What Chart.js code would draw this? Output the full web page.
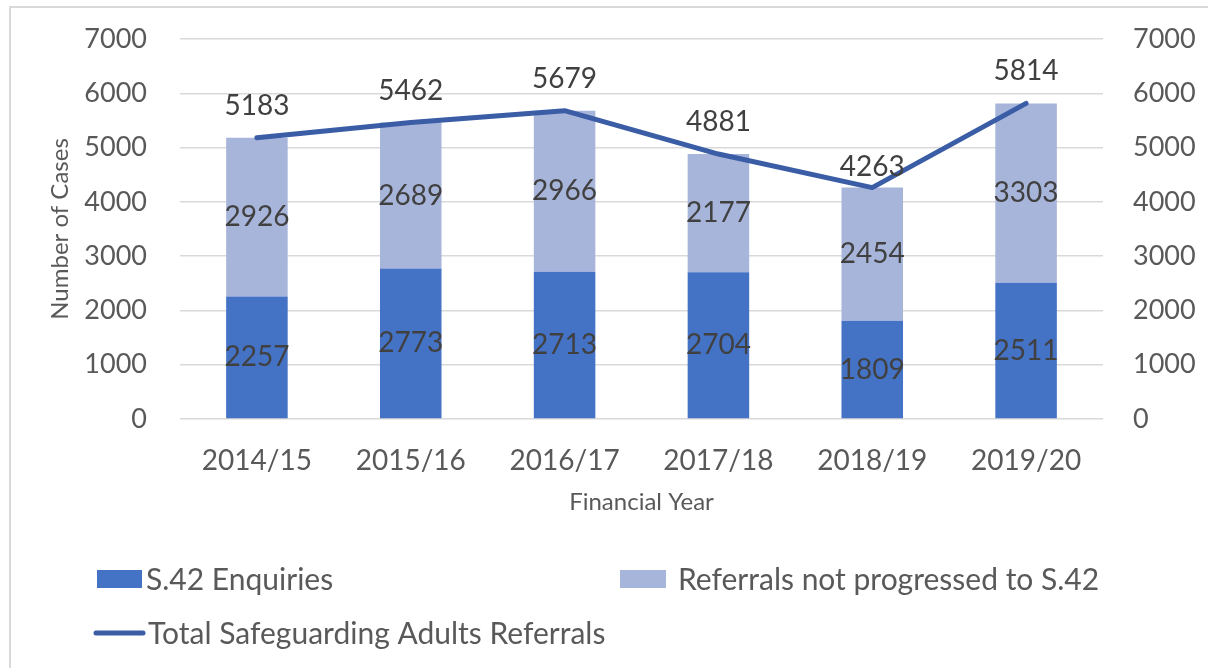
<!DOCTYPE html>
<html><head><meta charset="utf-8">
<script src="https://cdn.jsdelivr.net/npm/chart.js@4/dist/chart.umd.min.js"></script>
<style>
html,body{margin:0;padding:0;background:#fff;overflow:hidden;width:1208px;height:668px}
#frame{position:absolute;left:9px;top:6px;width:1300px;height:800px;border:2px solid #d9d9d9;box-sizing:border-box}
canvas{position:absolute;left:0;top:0}
</style></head><body>
<div id="frame"></div>
<canvas id="c" width="1208" height="668"></canvas>
<script>
const categories = ['2014/15','2015/16','2016/17','2017/18','2018/19','2019/20'];
const s42Enquiries = [2257, 2773, 2713, 2704, 1809, 2511];
const referralsNotProgressed = [2926, 2689, 2966, 2177, 2454, 3303];
const totalReferrals = [5183, 5462, 5679, 4881, 4263, 5814];
const seriesNames = ['S.42 Enquiries', 'Referrals not progressed to S.42', 'Total Safeguarding Adults Referrals'];
const axisMin = 0, axisMax = 7000, axisStep = 1000;

const FONT = 'Lato, "Noto Sans", sans-serif';
const TICK = '#595959';
const LABEL = '#404040';
const C1 = '#4472C4', C2 = '#A8B5DB', CL = '#3A5DA6';

const valueLabels = {
  id: 'valueLabels',
  afterDatasetsDraw(chart, args, opts) {
    const ctx = chart.ctx;
    ctx.save();
    ctx.font = opts.size + 'px ' + FONT;
    ctx.fillStyle = opts.color;
    ctx.textAlign = 'center';
    ctx.textBaseline = 'middle';
    chart.data.datasets.forEach((ds, i) => {
      const meta = chart.getDatasetMeta(i);
      meta.data.forEach((el, j) => {
        const v = ds.data[j];
        if (ds.type === 'line') {
          ctx.fillText(String(v), el.x, el.y - opts.lineOffsets[j]);
        } else {
          const p = el.getProps(['x', 'y', 'base'], true);
          ctx.fillText(String(v), p.x, (p.y + p.base) / 2);
        }
      });
    });
    ctx.restore();
  }
};

const customLegend = {
  id: 'customLegend',
  afterDraw(chart, args, opts) {
    const ctx = chart.ctx;
    ctx.save();
    ctx.font = opts.size + 'px ' + FONT;
    ctx.textBaseline = 'middle';
    ctx.textAlign = 'left';
    opts.items.forEach(it => {
      const ds = chart.data.datasets[it.index];
      if (ds.type === 'line') {
        ctx.strokeStyle = ds.borderColor;
        ctx.lineWidth = ds.borderWidth;
        ctx.lineCap = 'round';
        ctx.beginPath();
        ctx.moveTo(it.x, it.y);
        ctx.lineTo(it.x + it.w, it.y);
        ctx.stroke();
      } else {
        ctx.fillStyle = ds.backgroundColor;
        ctx.fillRect(it.x, it.y - it.h / 2, it.w, it.h);
      }
      ctx.fillStyle = TICK;
      ctx.fillText(ds.label, it.tx, it.y + 1);
    });
    ctx.restore();
  }
};

const plainNumber = v => String(v);

new Chart(document.getElementById('c'), {
  data: {
    labels: categories,
    datasets: [
      { type: 'bar', label: seriesNames[0], data: s42Enquiries, backgroundColor: C1, yAxisID: 'y', order: 2, barPercentage: 1, categoryPercentage: 0.4 },
      { type: 'bar', label: seriesNames[1], data: referralsNotProgressed, backgroundColor: C2, yAxisID: 'y', order: 2, barPercentage: 1, categoryPercentage: 0.4 },
      { type: 'line', label: seriesNames[2], data: totalReferrals, borderColor: CL, borderWidth: 5, pointRadius: 0, tension: 0, borderCapStyle: 'round', borderJoinStyle: 'round', yAxisID: 'y1', order: 1 }
    ]
  },
  options: {
    responsive: false,
    animation: false,
    layout: { padding: { left: 0, right: 0, top: 39, bottom: 149 } },
    plugins: {
      legend: { display: false },
      tooltip: { enabled: false },
      valueLabels: { size: 28, color: LABEL, lineOffsets: [32, 32, 32, 32, 21, 32] },
      customLegend: {
        size: 30,
        items: [
          { index: 0, x: 97, y: 579, w: 45, h: 18, tx: 146 },
          { index: 1, x: 620, y: 579, w: 46, h: 18, tx: 678 },
          { index: 2, x: 96, y: 633, w: 47, h: 0, tx: 148 }
        ]
      }
    },
    scales: {
      x: {
        stacked: true,
        grid: { display: false, drawTicks: false },
        border: { display: false },
        ticks: { color: TICK, font: { family: FONT, size: 28 }, padding: 25, maxRotation: 0 },
        title: { display: true, text: 'Financial Year', color: TICK, font: { family: FONT, size: 24 }, padding: { top: 0, bottom: 2 } },
        afterFit(s) { s.height = 100; s.paddingLeft = 0; s.paddingRight = 0; }
      },
      y: {
        stacked: true,
        position: 'left',
        min: axisMin, max: axisMax,
        ticks: { stepSize: axisStep, color: TICK, font: { family: FONT, size: 27 }, padding: 33, callback: plainNumber },
        grid: { color: '#D9D9D9', lineWidth: 1.5, drawTicks: false },
        border: { display: false },
        title: { display: true, text: 'Number of Cases', color: TICK, font: { family: FONT, size: 24 }, padding: { top: 46, bottom: 0 } },
        afterFit(s) { s.width = 180; s.paddingTop = 0; s.paddingBottom = 0; }
      },
      y1: {
        position: 'right',
        min: axisMin, max: axisMax,
        ticks: { stepSize: axisStep, color: TICK, font: { family: FONT, size: 27 }, padding: 30, callback: plainNumber },
        grid: { display: false, drawTicks: false },
        border: { display: false },
        afterFit(s) { s.width = 105; s.paddingTop = 0; s.paddingBottom = 0; }
      }
    }
  },
  plugins: [valueLabels, customLegend]
});
</script>
</body></html>
